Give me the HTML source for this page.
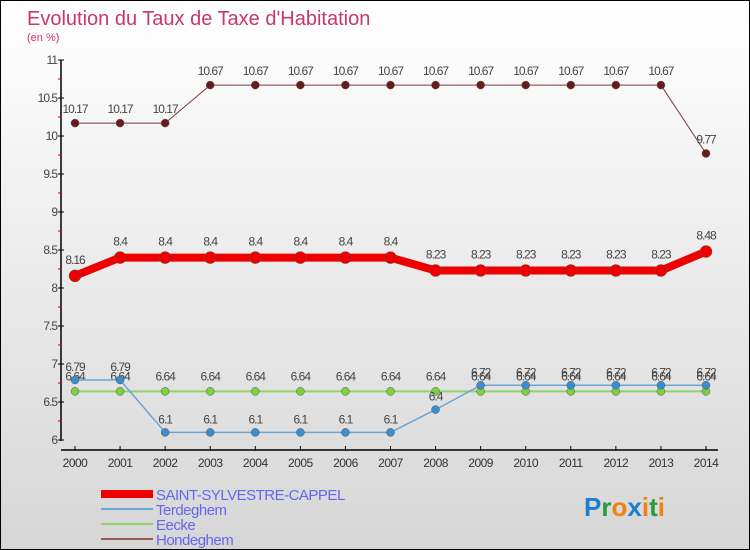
<!DOCTYPE html>
<html><head><meta charset="utf-8"><style>
body{margin:0;}
#c{width:748px;height:548px;border:1px solid #000;background:linear-gradient(#fff 0%,#f3f3f3 30%,#d6d6d6 100%);position:relative;overflow:hidden;font-family:"Liberation Sans",sans-serif;}
</style></head><body>
<div id="c">
<svg id="s" width="748" height="548"></svg>
</div>
<script>
const years=[2000,2001,2002,2003,2004,2005,2006,2007,2008,2009,2010,2011,2012,2013,2014];
const saint=[8.16,8.4,8.4,8.4,8.4,8.4,8.4,8.4,8.23,8.23,8.23,8.23,8.23,8.23,8.48];
const terdeghem=[6.79,6.79,6.1,6.1,6.1,6.1,6.1,6.1,6.4,6.72,6.72,6.72,6.72,6.72,6.72];
const eecke=[6.64,6.64,6.64,6.64,6.64,6.64,6.64,6.64,6.64,6.64,6.64,6.64,6.64,6.64,6.64];
const hondeghem=[10.17,10.17,10.17,10.67,10.67,10.67,10.67,10.67,10.67,10.67,10.67,10.67,10.67,10.67,9.77];
const yTicks=[6,6.5,7,7.5,8,8.5,9,9.5,10,10.5,11];
const seriesNames=["SAINT-SYLVESTRE-CAPPEL","Terdeghem","Eecke","Hondeghem"];

const NS="http://www.w3.org/2000/svg";
const s=document.getElementById('s');
function X(i){return 74+i*(705-74)/(years.length-1);}
function Y(v){return 439-(v-6)*76;}
function el(t,a,p){const e=document.createElementNS(NS,t);for(const k in a)e.setAttribute(k,a[k]);(p||s).appendChild(e);return e;}
function txt(x,y,str,a){const e=el('text',Object.assign({x:x,y:y},a));e.textContent=str;return e;}

let t=txt(26,24,"Evolution du Taux de Taxe d'Habitation",{fill:'#c8386a','font-size':20});

t=txt(26,40,"(en %)",{fill:'#c8386a','font-size':11});


let ax=el('line',{x1:60,y1:59,x2:60,y2:440,stroke:'#000','stroke-width':1.5});

ax=el('line',{x1:60,y1:449,x2:717,y2:449,stroke:'#000','stroke-width':1.5});

yTicks.forEach((v,i)=>{
 el('line',{x1:57,y1:Y(v),x2:63,y2:Y(v),stroke:'#000'});
 if(i<yTicks.length-1) el('line',{x1:57,y1:Y(v+0.25),x2:61,y2:Y(v+0.25),stroke:'#d00'});
 const l=txt(56,Y(v)+4,String(v),{fill:'#444','font-size':12,'text-anchor':'end','letter-spacing':'-1'});
 
});
years.forEach((yr,i)=>{
 el('line',{x1:X(i),y1:445,x2:X(i),y2:450,stroke:'#000'});
 const l=txt(X(i),466,String(yr),{fill:'#333','font-size':12,'text-anchor':'middle','letter-spacing':'-0.5'});
 
});

function series(data,color,dot,w,r,name,labelDy){
 const g=el('g',{});
 
 el('polyline',{points:data.map((v,i)=>X(i)+','+Y(v)).join(' '),fill:'none',stroke:color,'stroke-width':w,'stroke-linejoin':'round'},g);
 data.forEach((v,i)=>{
  const c=el('circle',{cx:X(i),cy:Y(v),r:r,fill:dot,stroke:'#555','stroke-width':0.5},g);
  
  txt(X(i),Y(v)+labelDy,String(v),{fill:'#444','font-size':12,'text-anchor':'middle','letter-spacing':'-1'},g);
 });
}
series(hondeghem,'#7a3a3a','#6b1a1a',1,4,'series-hondeghem',-10);
series(eecke,'#8fd36a','#7fd040',2,4,'series-eecke',-11);
series(terdeghem,'#6aa6d6','#3a8ed0',1.5,4,'series-terdeghem',-9);
series(saint,'#ee0000','#ee0000',8,6,'series-saint-sylvestre-cappel',-12);

const lc=['#ee0000','#6aa6d6','#8fd36a','#9a5a5a'],lw=[8,2,2,2];
seriesNames.forEach((n,i)=>{
 const y=493+i*15;
 const g=el('g',{});
 
 el('line',{x1:100,y1:y,x2:152,y2:y,stroke:lc[i],'stroke-width':lw[i]},g);
 txt(155,y+6,n,{fill:'#6666ee','font-size':15,'letter-spacing':'-0.5'},g);
});
const lg=el('text',{x:583,y:515,'font-size':26,'font-family':'"Liberation Sans",sans-serif','font-weight':'bold'});

[['P','#1e7fd0'],['r','#2a9a3a'],['o','#f08010'],['x','#1e7fd0'],['i','#f08010'],['t','#2a9a3a'],['i','#f08010']].forEach(([c,col])=>{
 const sp=el('tspan',{fill:col},lg);sp.textContent=c;
});
</script>
</body></html>
